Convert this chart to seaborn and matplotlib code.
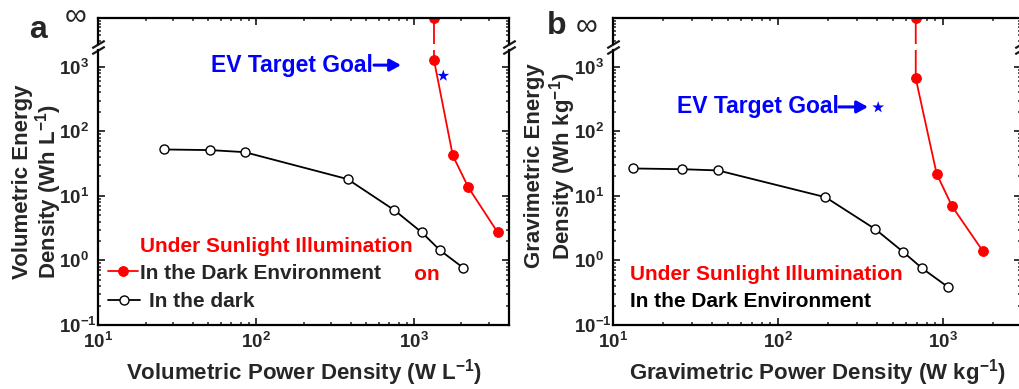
import numpy as np
import matplotlib
matplotlib.use("Agg")
import matplotlib.pyplot as plt
import seaborn as sns
from matplotlib.ticker import LogLocator, FuncFormatter, NullFormatter

# ---- data -------------------------------------------------------------
# Panel a: volumetric Ragone data
vol_power_light = [1340, 1340, 1762, 2213, 3395]          # W L^-1
vol_energy_light = [np.inf, 1270, 42.3, 13.5, 2.71]       # Wh L^-1
vol_power_dark = [26.0, 51.4, 84.9, 380, 753, 1124, 1462, 2056]
vol_energy_dark = [52.4, 51.2, 47.6, 18.2, 6.0, 2.71, 1.44, 0.766]
vol_target_power = [1535]
vol_target_energy = [725]

# Panel b: gravimetric Ragone data
grav_power_light = [684, 684, 916, 1135, 1746]            # W kg^-1
grav_energy_light = [np.inf, 661, 21.9, 6.92, 1.39]       # Wh kg^-1
grav_power_dark = [13.3, 26.2, 43.3, 194, 389, 573, 747, 1072]
grav_energy_dark = [26.6, 25.9, 24.8, 9.55, 3.05, 1.36, 0.757, 0.388]
grav_target_power = [405]
grav_target_energy = [235]

# ---- style ------------------------------------------------------------
sns.set_theme(style="ticks")
plt.rcParams.update({
    "font.family": ["Liberation Sans", "DejaVu Sans"],
    "font.weight": "bold",
    "axes.labelweight": "bold",
    "mathtext.fontset": "custom",
    "mathtext.rm": "Liberation Sans:bold",
    "mathtext.it": "Liberation Sans:bold",
    "mathtext.bf": "Liberation Sans:bold",
    "axes.linewidth": 1.6,
    "xtick.direction": "in",
    "ytick.direction": "in",
    "xtick.major.size": 5,
    "ytick.major.size": 5,
    "xtick.minor.size": 2.5,
    "ytick.minor.size": 2.5,
    "xtick.major.width": 1.3,
    "ytick.major.width": 1.3,
    "xtick.minor.width": 1.1,
    "ytick.minor.width": 1.1,
})

W, H = 1019, 389
fig = plt.figure(figsize=(W / 100, H / 100), dpi=100)

INF_LEVEL = 1e5          # where the "infinite" energy is drawn on the upper segment
Y_LOW, Y_HIGH = 0.1, 10 ** 3.26
TOP_LOW = 10 ** 4.55

TICK_FS = 13.5
LABEL_FS = 16
NOTE_FS = 15
EV_FS = 16.5


def frac_rect(x0, y0, x1, y1):
    """Pixel box (left, top, right, bottom) -> figure fraction rect."""
    return [x0 / W, 1 - y1 / H, (x1 - x0) / W, (y1 - y0) / H]


def pow10(v, _):
    n = int(round(np.log10(v)))
    return r"$\mathbf{10^{%d}}$" % n


def finite_energy(e):
    e = np.asarray(e, dtype=float)
    return np.where(np.isinf(e), INF_LEVEL, e)


def draw_series(ax, p_light, e_light, p_dark, e_dark):
    sns.lineplot(x=p_light, y=finite_energy(e_light), ax=ax, color="red",
                 sort=False, estimator=None, linewidth=1.3, marker="o",
                 markersize=7, markerfacecolor="red",
                 markeredgecolor="red", legend=False)
    red_line = ax.lines[-1]
    sns.lineplot(x=p_dark, y=e_dark, ax=ax, color="black", sort=False,
                 estimator=None, linewidth=1.3, marker="o", markersize=6.5,
                 markerfacecolor="white", markeredgecolor="black",
                 markeredgewidth=1.0, legend=False)
    dark_line = ax.lines[-1]
    return red_line, dark_line


def build_panel(x0, x1, xmax, p_light, e_light, p_dark, e_dark, tp, te):
    ax_top = fig.add_axes(frac_rect(x0, 18, x1, 44))
    ax = fig.add_axes(frac_rect(x0, 50, x1, 325), sharex=ax_top)

    red_line, dark_line = draw_series(ax, p_light, e_light, p_dark, e_dark)
    sns.lineplot(x=p_light, y=finite_energy(e_light), ax=ax_top, color="red",
                 sort=False, estimator=None, linewidth=1.3, marker="o",
                 markersize=7, markerfacecolor="red", markeredgecolor="red",
                 legend=False)
    sns.scatterplot(x=tp, y=te, ax=ax, marker="*", s=80, color="blue",
                    edgecolor="none", legend=False, zorder=4)

    for a in (ax, ax_top):
        a.set_xscale("log")
        a.set_yscale("log")
        a.set_xlim(10, xmax)
        a.set_xlabel("")
        a.set_ylabel("")
        a.xaxis.set_minor_locator(LogLocator(base=10, subs=np.arange(2, 10)))
        a.yaxis.set_minor_locator(LogLocator(base=10, subs=np.arange(2, 10)))
        a.xaxis.set_minor_formatter(NullFormatter())
        a.yaxis.set_minor_formatter(NullFormatter())
        for s in a.spines.values():
            s.set_linewidth(1.6)
            s.set_color("black")

    ax.set_ylim(Y_LOW, Y_HIGH)
    ax_top.set_ylim(TOP_LOW, INF_LEVEL)

    ax.spines["top"].set_visible(False)
    ax_top.spines["bottom"].set_visible(False)
    ax.tick_params(which="both", top=False, bottom=True, left=True, right=True)
    ax_top.tick_params(which="both", top=True, bottom=False, left=True,
                       right=True, labelbottom=False, labelleft=False)
    ax_top.yaxis.set_major_formatter(NullFormatter())

    ax.xaxis.set_major_locator(LogLocator(base=10, numticks=10))
    ax.yaxis.set_major_locator(LogLocator(base=10, numticks=10))
    ax.xaxis.set_major_formatter(FuncFormatter(pow10))
    ax.yaxis.set_major_formatter(FuncFormatter(pow10))
    ax.tick_params(axis="x", which="major", labelsize=TICK_FS, pad=5)
    ax.tick_params(axis="y", which="major", labelsize=TICK_FS, pad=28)
    fig.canvas.draw()
    for lab in ax.get_yticklabels():
        lab.set_horizontalalignment("left")

    # axis-break marks on both side spines
    kw = dict(marker=[(-1, -0.6), (1, 0.6)], markersize=9, linestyle="none",
              color="k", mec="k", mew=1.6, clip_on=False)
    ax.plot([0, 1], [1, 1], transform=ax.transAxes, **kw)
    ax_top.plot([0, 1], [0, 0], transform=ax_top.transAxes, **kw)
    return ax, ax_top, red_line, dark_line


def ev_label(ax, x, y, x_tail, x_head):
    ax.text(x, y, "EV Target Goal", transform=ax.transAxes, color="blue",
            fontsize=EV_FS, ha="left", va="center")
    ax.annotate("", xy=(x_head, y), xytext=(x_tail, y),
                xycoords="axes fraction", textcoords="axes fraction",
                arrowprops=dict(arrowstyle="-|>,head_length=0.55,head_width=0.3",
                                lw=2.2, color="blue", shrinkA=0, shrinkB=0))


# ---- panel a ------------------------------------------------------------
ax_a, top_a, red_a, dark_a = build_panel(98, 509, 4000, vol_power_light,
                                         vol_energy_light, vol_power_dark,
                                         vol_energy_dark, vol_target_power,
                                         vol_target_energy)
ax_a.set_xlabel(r"Volumetric Power Density (W L$^{\mathbf{-1}}$)",
                fontsize=LABEL_FS)
ax_a.xaxis.set_label_coords(0.5, -48 / 275)
ax_a.xaxis.label.set_va("center")
ax_a.set_ylabel("Volumetric Energy\n" + r"Density (Wh L$^{\mathbf{-1}}$)",
                fontsize=LABEL_FS, multialignment="left", linespacing=1.0)
ax_a.yaxis.set_label_coords(-60 / 411, 143 / 275)
ax_a.yaxis.label.set_va("center")

ev_label(ax_a, (211 - 98) / 411, 0.945, (374 - 98) / 411, (401 - 98) / 411)
ax_a.text((440 - 98) / 411, 0.182, "Under Sunlight Illumination",
          transform=ax_a.transAxes, color="red", fontsize=NOTE_FS,
          ha="right", va="center", zorder=2)
ax_a.text((140 - 98) / 411, 0.284, "Under Sunlight Illumination",
          transform=ax_a.transAxes, color="red", fontsize=NOTE_FS,
          ha="left", va="center")

leg1 = ax_a.legend(handles=[red_a], labels=["In the Dark Environment"],
                   loc="center left",
                   bbox_to_anchor=((107 - 98) / 411, 0.189 - 0.04,
                                   (414 - 107) / 411, 0.08),
                   mode="expand", frameon=True, facecolor="white",
                   edgecolor="none", framealpha=1, fancybox=False,
                   fontsize=NOTE_FS, handlelength=1.45, handletextpad=0.1,
                   borderpad=0.05, borderaxespad=0)
leg1.set_zorder(6)
ax_a.add_artist(leg1)
leg2 = ax_a.legend(handles=[dark_a], labels=["In the dark"],
                   loc="center left", bbox_to_anchor=((108 - 98) / 411, 0.085),
                   frameon=False, fontsize=NOTE_FS, handlelength=1.55,
                   handletextpad=0.4, borderpad=0, borderaxespad=0)

# ---- panel b ------------------------------------------------------------
ax_b, top_b, red_b, dark_b = build_panel(613, 1021, 10 ** 3.473,
                                         grav_power_light, grav_energy_light,
                                         grav_power_dark, grav_energy_dark,
                                         grav_target_power, grav_target_energy)
ax_b.set_xlabel(r"Gravimetric Power Density (W kg$^{\mathbf{-1}}$)",
                fontsize=LABEL_FS)
ax_b.xaxis.set_label_coords(0.5, -48 / 275)
ax_b.xaxis.label.set_va("center")
ax_b.set_ylabel("Gravimetric Energy\n" + r"Density (Wh kg$^{\mathbf{-1}}$)",
                fontsize=LABEL_FS, multialignment="center", linespacing=1.05)
ax_b.yaxis.set_label_coords(-62 / 408, 159 / 275)
ax_b.yaxis.label.set_va("center")

ev_label(ax_b, (677 - 613) / 408, 0.793, (839 - 613) / 408, (868 - 613) / 408)
ax_b.text((630 - 613) / 408, 0.182, "Under Sunlight Illumination",
          transform=ax_b.transAxes, color="red", fontsize=NOTE_FS,
          ha="left", va="center")
ax_b.text((630 - 613) / 408, 0.084, "In the Dark Environment",
          transform=ax_b.transAxes, color="black", fontsize=NOTE_FS,
          ha="left", va="center")

# ---- panel letters and infinity marks ------------------------------------
fig.text(38 / W, 1 - 30 / H, "a", fontsize=23, ha="center", va="center")
fig.text(557 / W, 1 - 26 / H, "b", fontsize=23, ha="center", va="center")
fig.text(76 / W, 1 - 16 / H, "\u221e", fontsize=22, ha="center", va="center",
         fontweight="normal")
fig.text(587 / W, 1 - 26 / H, "\u221e", fontsize=22, ha="center", va="center",
         fontweight="normal")

fig.savefig("out.png", dpi=100)
